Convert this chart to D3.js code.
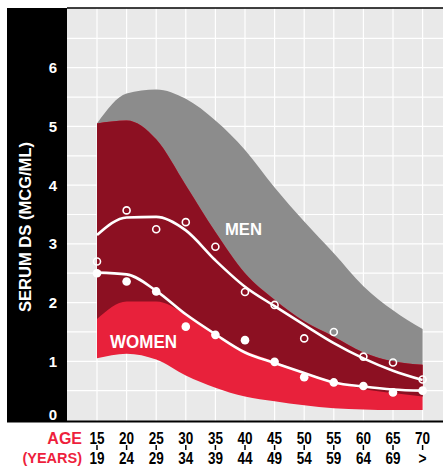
<!DOCTYPE html>
<html>
<head>
<meta charset="utf-8">
<script src="https://d3js.org/d3.v7.min.js"></script>
<style>
  body { margin: 0; background: #fff; }
  svg { display: block; }
</style>
</head>
<body>
<div id="chart"></div>
<script>
  // age groups (top row / bottom row of the x labels)
  const ageFrom = ["15","20","25","30","35","40","45","50","55","60","65","70"];
  const ageTo   = ["19","24","29","34","39","44","49","54","59","64","69",">"];

  // normal range, men (grey band) and women (red band), mcg/ml
  const menHigh   = [5.05, 5.56, 5.63, 5.47, 5.10, 4.60, 3.96, 3.38, 2.84, 2.28, 1.87, 1.55];
  const menLow    = [1.72, 2.02, 2.02, 1.80, 1.45, 1.18, 1.00, 0.80, 0.66, 0.53, 0.46, 0.40];
  const womenHigh = [5.05, 5.10, 4.78, 4.00, 3.20, 2.50, 2.05, 1.68, 1.42, 1.15, 1.00, 0.94];
  const womenLow  = [1.05, 1.13, 1.03, 0.76, 0.55, 0.40, 0.32, 0.25, 0.20, 0.18, 0.17, 0.17];

  // measured means and fitted curves
  const menPoints   = [2.70, 3.57, 3.25, 3.37, 2.95, 2.18, 1.96, 1.39, 1.50, 1.08, 0.98, 0.69];
  const womenPoints = [2.50, 2.36, 2.19, 1.59, 1.45, 1.36, 0.99, 0.73, 0.64, 0.58, 0.47, 0.50];
  const menFit      = [3.15, 3.45, 3.46, 3.23, 2.72, 2.27, 1.94, 1.62, 1.31, 1.05, 0.84, 0.68];
  const womenFit    = [2.51, 2.48, 2.20, 1.80, 1.46, 1.15, 0.97, 0.80, 0.64, 0.57, 0.52, 0.50];

  const yTicks = [0, 1, 2, 3, 4, 5, 6];

  let width = 443;
  let height = 467;

  let svg = d3.select("#chart").append("svg")
    .attr("width", width)
    .attr("height", height);

  let x = d3.scaleLinear().domain([0, 11]).range([97, 422.6]);
  let y = d3.scaleLinear().domain([0, 7]).range([420, 9]);

  let plotLeft = 67, plotRight = 443, plotTop = 8, plotBottom = 421;

  // black panel behind the y axis
  svg.append("rect")
    .attr("x", 7).attr("y", plotTop)
    .attr("width", plotLeft - 7).attr("height", plotBottom - plotTop)
    .style("fill", "#000");

  // plot background
  svg.append("rect")
    .attr("x", plotLeft).attr("y", plotTop)
    .attr("width", plotRight - plotLeft).attr("height", plotBottom - plotTop)
    .style("fill", "#e9e9e9");

  // grid
  let grid = svg.append("g");
  grid.selectAll(".hg")
    .data(d3.range(0.5, 7, 0.5))
    .enter().append("line")
      .attr("x1", plotLeft).attr("x2", plotRight)
      .attr("y1", d => y(d)).attr("y2", d => y(d))
      .style("stroke", "#fff").style("stroke-width", 1.2);
  grid.selectAll(".vg")
    .data(ageFrom)
    .enter().append("line")
      .attr("x1", (d, i) => x(i)).attr("x2", (d, i) => x(i))
      .attr("y1", plotTop).attr("y2", plotBottom)
      .style("stroke", "#fff").style("stroke-width", 1.2);

  // bands
  let band = (hi, lo) => d3.area()
    .x((d, i) => x(i))
    .y0((d, i) => y(lo[i]))
    .y1((d, i) => y(hi[i]))
    .curve(d3.curveMonotoneX);

  svg.append("path").datum(ageFrom)
    .attr("d", band(menHigh, menLow)).style("fill", "#8c8c8c");
  svg.append("path").datum(ageFrom)
    .attr("d", band(womenHigh, womenLow)).style("fill", "#e8213b");
  // overlap of both ranges
  svg.append("path").datum(ageFrom)
    .attr("d", band(womenHigh, menLow)).style("fill", "#8c1022");

  // band names
  svg.append("text")
    .attr("x", 225).attr("y", 235)
    .attr("textLength", 37).attr("lengthAdjust", "spacingAndGlyphs")
    .style("font-family", "'Liberation Sans', Arial, sans-serif")
    .style("font-weight", "bold").style("font-size", "17px")
    .style("fill", "#fff")
    .text("MEN");
  svg.append("text")
    .attr("x", 110).attr("y", 347.5)
    .attr("textLength", 67).attr("lengthAdjust", "spacingAndGlyphs")
    .style("font-family", "'Liberation Sans', Arial, sans-serif")
    .style("font-weight", "bold").style("font-size", "18px")
    .style("fill", "#fff")
    .text("WOMEN");

  // fitted curves
  let fitLine = d3.line()
    .x((d, i) => x(i))
    .y(d => y(d))
    .curve(d3.curveMonotoneX);

  svg.append("path").datum(menFit)
    .attr("d", fitLine)
    .style("fill", "none").style("stroke", "#fff").style("stroke-width", 2.6);
  svg.append("path").datum(womenFit)
    .attr("d", fitLine)
    .style("fill", "none").style("stroke", "#fff").style("stroke-width", 2.6);

  // measured points
  svg.append("g").selectAll("circle")
    .data(menPoints)
    .enter().append("circle")
      .attr("cx", (d, i) => x(i)).attr("cy", d => y(d))
      .attr("r", 3.5)
      .style("fill", "none").style("stroke", "#fff").style("stroke-width", 1.6);
  svg.append("g").selectAll("circle")
    .data(womenPoints)
    .enter().append("circle")
      .attr("cx", (d, i) => x(i)).attr("cy", d => y(d))
      .attr("r", 4.3)
      .style("fill", "#fff");

  // frame lines
  svg.append("line")
    .attr("x1", plotLeft).attr("x2", plotRight)
    .attr("y1", plotTop).attr("y2", plotTop)
    .style("stroke", "#000").style("stroke-width", 1.5);
  svg.append("line")
    .attr("x1", 7).attr("x2", plotRight)
    .attr("y1", 421.5).attr("y2", 421.5)
    .style("stroke", "#000").style("stroke-width", 2);

  // y tick labels
  svg.append("g").selectAll("text")
    .data(yTicks)
    .enter().append("text")
      .attr("x", 53)
      .attr("y", d => d === 0 ? 419.5 : y(d) + 5.5)
      .attr("text-anchor", "middle")
      .style("font-family", "'Liberation Sans', Arial, sans-serif")
      .style("font-weight", "bold").style("font-size", "15px")
      .style("fill", "#fff")
      .text(d => d);

  // y title
  svg.append("text")
    .attr("transform", "translate(31,227) rotate(-90)")
    .attr("text-anchor", "middle")
    .attr("textLength", 170).attr("lengthAdjust", "spacingAndGlyphs")
    .style("font-family", "'Liberation Sans', Arial, sans-serif")
    .style("font-weight", "bold").style("font-size", "16px")
    .style("fill", "#fff")
    .text("SERUM DS (MCG/ML)");

  // x labels
  let numFont = "'Liberation Sans', Arial, sans-serif";
  let xl = svg.append("g");
  xl.selectAll("line")
    .data(ageFrom)
    .enter().append("line")
      .attr("x1", (d, i) => x(i)).attr("x2", (d, i) => x(i))
      .attr("y1", 445).attr("y2", 450)
      .style("stroke", "#000").style("stroke-width", 1.5);
  xl.selectAll(".from")
    .data(ageFrom)
    .enter().append("text")
      .attr("x", (d, i) => x(i) - 7.5).attr("y", 444)
      .attr("textLength", 15).attr("lengthAdjust", "spacingAndGlyphs")
      .style("font-family", numFont)
      .style("font-weight", "bold").style("font-size", "16.5px")
      .style("fill", "#000")
      .text(d => d);
  xl.selectAll(".to")
    .data(ageTo)
    .enter().append("text")
      .attr("x", (d, i) => x(i) - (d.length > 1 ? 7.5 : 4))
      .attr("y", 463.5)
      .attr("textLength", d => d.length > 1 ? 15 : 8)
      .attr("lengthAdjust", "spacingAndGlyphs")
      .style("font-family", numFont)
      .style("font-weight", "bold").style("font-size", "16.5px")
      .style("fill", "#000")
      .text(d => d);

  svg.append("text")
    .attr("x", 82).attr("y", 444)
    .attr("text-anchor", "end")
    .style("font-family", numFont)
    .style("font-weight", "bold").style("font-size", "16px")
    .style("fill", "#ee1f3d")
    .text("AGE");
  svg.append("text")
    .attr("x", 82).attr("y", 463)
    .attr("text-anchor", "end")
    .style("font-family", numFont)
    .style("font-weight", "bold").style("font-size", "14.5px")
    .style("fill", "#ee1f3d")
    .text("(YEARS)");
</script>
</body>
</html>
